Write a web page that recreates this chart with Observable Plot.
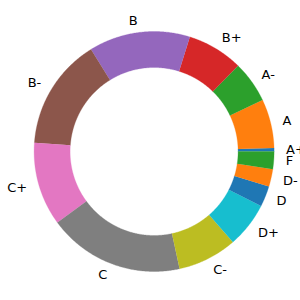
<!DOCTYPE html>
<html>
<head>
<meta charset="utf-8">
<script src="https://cdn.jsdelivr.net/npm/d3@7"></script>
<script src="https://cdn.jsdelivr.net/npm/@observablehq/plot@0.6"></script>
<style>
  html, body { margin: 0; padding: 0; background: white; }
</style>
</head>
<body>
<div id="chart"></div>
<script>
const grades = ["A+","A","A-","B+","B","B-","C+","C","C-","D+","D","D-","F"];
const counts = [1, 14, 12, 16, 29, 32, 24, 39, 17, 13, 6, 5, 5];
const palette = d3.schemeCategory10;
const colors = grades.map((g, i) => palette[i % palette.length]);

const total = d3.sum(counts);
const outerR = 1, innerR = 0.7, labelR = 1.1;

// build wedge polygons (angles counterclockwise from east, like matplotlib)
const wedgePts = [];
const labels = [];
let cum = 0;
grades.forEach((g, i) => {
  const a0 = cum / total * 2 * Math.PI;
  cum += counts[i];
  const a1 = cum / total * 2 * Math.PI;
  const n = Math.max(2, Math.ceil((a1 - a0) / (Math.PI / 360)));
  for (let k = 0; k <= n; k++) {
    const a = a0 + (a1 - a0) * k / n;
    wedgePts.push({grade: g, x: outerR * Math.cos(a), y: outerR * Math.sin(a)});
  }
  for (let k = n; k >= 0; k--) {
    const a = a0 + (a1 - a0) * k / n;
    wedgePts.push({grade: g, x: innerR * Math.cos(a), y: innerR * Math.sin(a)});
  }
  const am = (a0 + a1) / 2;
  labels.push({grade: g, x: labelR * Math.cos(am), y: labelR * Math.sin(am)});
});

const chart = Plot.plot({
  width: 300,
  height: 300,
  margin: 0,
  style: {fontFamily: "DejaVu Sans", background: "white"},
  x: {domain: [-1.28, 1.22], axis: null},
  y: {domain: [-1.2417, 1.2583], axis: null},
  color: {domain: grades, range: colors},
  marks: [
    Plot.line(wedgePts, {x: "x", y: "y", z: "grade", fill: "grade", stroke: "grade", strokeWidth: 0.3, curve: "linear"}),
    Plot.text(labels.filter(d => d.x >= 0), {x: "x", y: "y", text: "grade", textAnchor: "start", fontSize: 13, fill: "black"}),
    Plot.text(labels.filter(d => d.x < 0), {x: "x", y: "y", text: "grade", textAnchor: "end", fontSize: 13, fill: "black"})
  ]
});
document.getElementById("chart").appendChild(chart);
</script>
</body>
</html>
